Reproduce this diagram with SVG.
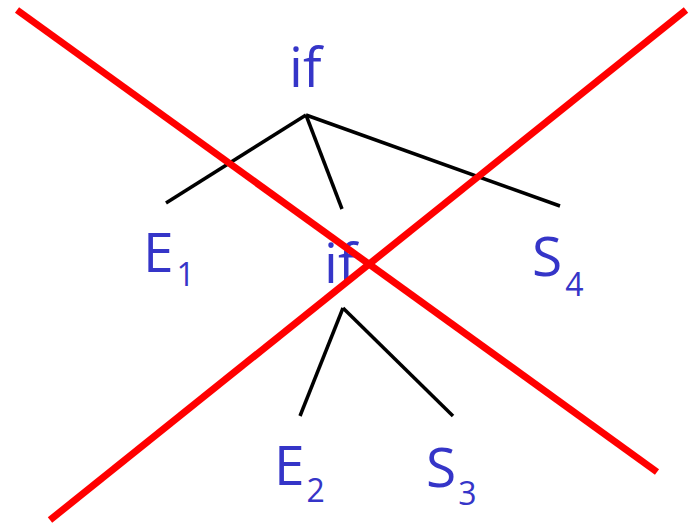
<svg xmlns="http://www.w3.org/2000/svg" width="689" height="527" viewBox="0 0 689 527">
<style>
.t{font-family:"Open Sans","Noto Sans",sans-serif;fill:#3535c8;font-size:55px}
.s{font-size:32px}
.e{stroke:#000;stroke-width:3.5;fill:none}
.x{stroke:#ff0000;stroke-width:7;stroke-linecap:butt}
</style>
<rect width="689" height="527" fill="#fff"/>
<g id="edges">
<line class="e" x1="306" y1="115" x2="166" y2="203"/>
<line class="e" x1="306" y1="115" x2="342" y2="209"/>
<line class="e" x1="306" y1="115" x2="560" y2="206"/>
<line class="e" x1="343" y1="308" x2="300" y2="416"/>
<line class="e" x1="343" y1="308" x2="453" y2="416"/>
</g>
<g id="if1"><text class="t" x="289" y="87">if</text></g>
<g id="E1"><text class="t" x="143" y="272">E<tspan class="s" dx="3" dy="14">1</tspan></text></g>
<g id="if2"><text class="t" x="324" y="283">if</text></g>
<g id="S4"><text class="t" x="532" y="276">S<tspan class="s" dx="3" dy="20">4</tspan></text></g>
<g id="E2"><text class="t" x="274" y="485">E<tspan class="s" dx="2" dy="17">2</tspan></text></g>
<g id="S3"><text class="t" x="426" y="487">S<tspan class="s" dx="2" dy="18">3</tspan></text></g>
<g id="cross">
<line class="x" x1="17" y1="10" x2="657" y2="472"/>
<line class="x" x1="686" y1="10" x2="50" y2="520"/>
</g>
</svg>
